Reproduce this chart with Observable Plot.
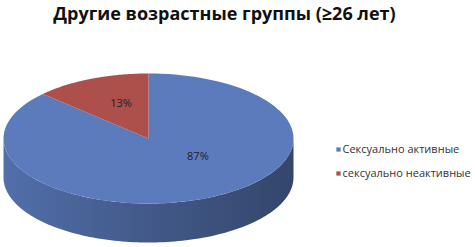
<!DOCTYPE html>
<html><head><meta charset="utf-8">
<script src="https://cdn.jsdelivr.net/npm/d3@7"></script>
<script src="https://cdn.jsdelivr.net/npm/@observablehq/plot@0.6"></script>
<style>body{margin:0;background:#fff;} svg{display:block;}</style>
</head><body><div id="chart"></div>
<script>
const title = "Другие возрастные группы (≥26 лет)";
const categories = ["Сексуально активные", "сексуально неактивные"];
const values = [87, 13];
const valueLabels = ["87%", "13%"];
const colors = ["#5b7bbd", "#ad4f4b"];

const W = 475, H = 247;
const cx = 148, cy = 138, rx = 145, ry = 65, depth = 39;
const total = d3.sum(values);
// angles clockwise from 12 o'clock
let acc = 0;
const slices = values.map((v, i) => {
  const a0 = acc / total * 2 * Math.PI; acc += v;
  const a1 = acc / total * 2 * Math.PI;
  return {cat: categories[i], label: valueLabels[i], color: colors[i], a0, a1};
});
const pt = (a, dy = 0) => ({x: cx + rx * Math.sin(a), y: cy - ry * Math.cos(a) + dy});
const N = 120;
function slicePoly(s) {
  const pts = [{x: cx, y: cy}];
  for (let k = 0; k <= N; k++) pts.push(pt(s.a0 + (s.a1 - s.a0) * k / N));
  pts.push({x: cx, y: cy});
  return pts;
}
// visible side: front half, from 90deg (right) to 270deg (left) clockwise
function sidePoly(s) {
  const lo = Math.max(s.a0, Math.PI / 2), hi = Math.min(s.a1, 3 * Math.PI / 2);
  if (hi <= lo) return [];
  const top = [], bot = [];
  for (let k = 0; k <= N; k++) { const a = lo + (hi - lo) * k / N; top.push(pt(a)); bot.push(pt(a, depth)); }
  return top.concat(bot.reverse());
}
const marks = [];
slices.forEach((s, i) => {
  const sp = sidePoly(s);
  if (sp.length) marks.push(Plot.line(sp, {x: "x", y: "y", fill: `url(#side${i})`, stroke: "none", curve: "linear"}));
});
slices.forEach((s, i) => {
  marks.push(Plot.line(slicePoly(s), {x: "x", y: "y", fill: s.color, stroke: "none"}));
});
// value labels at mid-angle
const labelOffsets = [[16, -17], [6, 0]];
slices.forEach((s, i) => {
  const m = (s.a0 + s.a1) / 2;
  const p = {x: cx + rx * 0.58 * Math.sin(m), y: cy - ry * 0.58 * Math.cos(m), t: s.label};
  marks.push(Plot.text([p], {x: "x", y: "y", text: "t", fontSize: 11, fill: "#1f1f1f", fontFamily: "Open Sans", dx: labelOffsets[i][0], dy: labelOffsets[i][1]}));
});
// legend
const legend = categories.map((c, i) => ({x: 338, y: 149 + i * 24, c, color: colors[i]}));
marks.push(Plot.dot(legend, {x: "x", y: "y", symbol: "square", r: 2.4, fill: d => d.color, stroke: "none"}));
marks.push(Plot.text(legend, {x: "x", y: "y", text: "c", dx: 4, textAnchor: "start", fontSize: 11, fontFamily: "Open Sans", fill: "#333"}));
// title
marks.push(Plot.text([{x: 224, y: 14, t: title}], {x: "x", y: "y", text: "t", fontSize: 18, fontWeight: "bold", fontFamily: "Open Sans", fill: "#111"}));

const plot = Plot.plot({
  width: W, height: H, margin: 0,
  x: {domain: [0, W], range: [0, W], axis: null},
  y: {domain: [0, H], range: [0, H], axis: null},
  color: {type: "identity"},
  style: {background: "#fff"},
  marks
});
const ns = "http://www.w3.org/2000/svg";
const defs = document.createElementNS(ns, "defs");
slices.forEach((s, i) => {
  const g = document.createElementNS(ns, "linearGradient");
  g.setAttribute("id", `side${i}`);
  g.setAttribute("x1", "0"); g.setAttribute("x2", "1"); g.setAttribute("y1", "0"); g.setAttribute("y2", "0");
  const c = d3.color(s.color);
  [[0, c.darker(0.3)], [0.5, c.darker(0.9)], [1, c.darker(1.6)]].forEach(([o, col]) => {
    const st = document.createElementNS(ns, "stop");
    st.setAttribute("offset", o); st.setAttribute("stop-color", col.formatHex());
    g.appendChild(st);
  });
  defs.appendChild(g);
});
plot.insertBefore(defs, plot.firstChild);
document.getElementById("chart").appendChild(plot);
</script></body></html>
